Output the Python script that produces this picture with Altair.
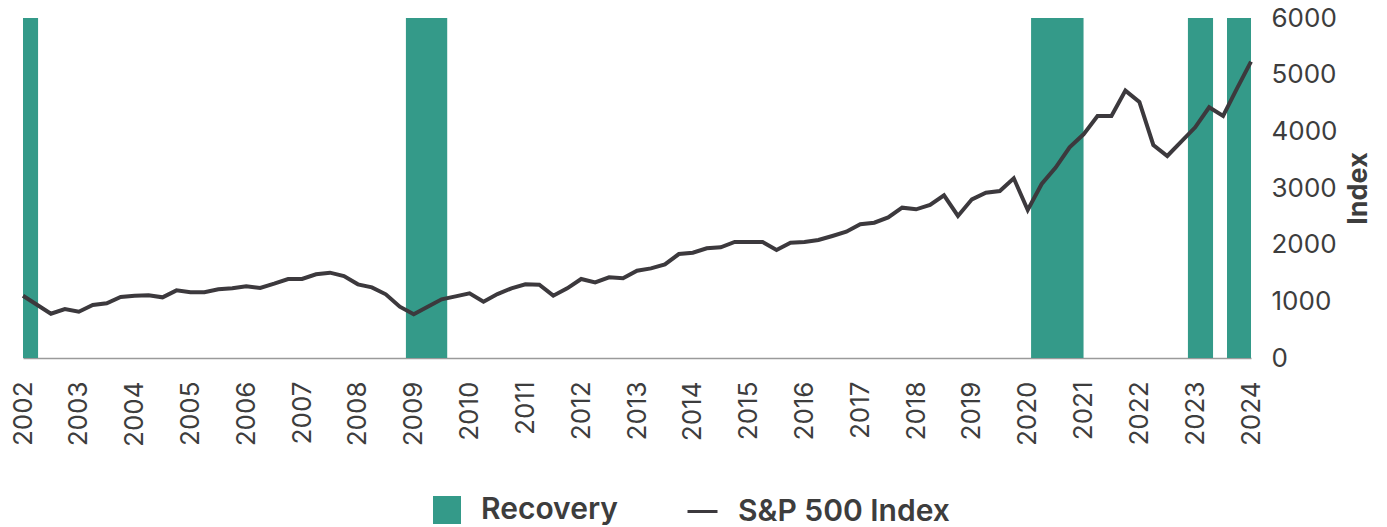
import altair as alt
import pandas as pd

# S&P 500 index, quarterly from 2002 Q1 to 2024 Q1
sp500 = [1099, 940, 782, 865, 817, 935, 965, 1076, 1100, 1106, 1071, 1194,
         1159, 1159, 1212, 1230, 1265, 1235, 1311, 1394, 1394, 1477, 1506, 1447,
         1300, 1247, 1124, 905, 771, 903, 1035, 1088, 1141, 994, 1129, 1229,
         1300, 1294, 1100, 1229, 1394, 1335, 1423, 1406, 1541, 1582, 1653, 1835,
         1859, 1935, 1953, 2047, 2047, 2047, 1906, 2035, 2047, 2082, 2153, 2229,
         2360, 2388, 2482, 2653, 2624, 2700, 2871, 2506, 2800, 2918, 2947, 3171,
         2612, 3071, 3360, 3718, 3947, 4271, 4271, 4718, 4518, 3759, 3565, 3818,
         4071, 4424, 4271, 4759, 5229]
start_year = 2002
quarter_step = 0.25

# Recovery periods (fractional years)
rec_start = [2002.0, 2008.86, 2020.06, 2022.87, 2023.57]
rec_end = [2002.27, 2009.60, 2021.0, 2023.32, 2024.0]

year_ticks = list(range(2002, 2025))
y_ticks = [0, 1000, 2000, 3000, 4000, 5000, 6000]

GREEN = "#349a89"
DARK = "#3c393d"
TEXT = "#3d3d3d"
FONT = "Inter"

line_df = pd.DataFrame({
    "t": [start_year + i * quarter_step for i in range(len(sp500))],
    "v": sp500,
    "series": ["S&P 500 Index"] * len(sp500),
})
rec_df = pd.DataFrame({
    "s": rec_start, "e": rec_end,
    "lo": [0] * len(rec_start), "hi": [6000] * len(rec_start),
    "label": ["Recovery"] * len(rec_start),
})

x_scale = alt.Scale(domain=[2002, 2024], nice=False, zero=False)
y_scale = alt.Scale(domain=[0, 6000], nice=False)

x_axis = alt.Axis(values=year_ticks, format="d", labelAngle=270, labelFontSize=26,
                  labelColor=TEXT, labelFont=FONT, ticks=False, grid=False,
                  domainColor="#9a9a9a", domainWidth=1.5, labelPadding=23,
                  labelFlush=False, labelOverlap=False, title=None)
y_axis = alt.Axis(orient="right", values=y_ticks, format="d", labelFontSize=26,
                  labelColor=TEXT, labelFont=FONT, ticks=False, grid=False,
                  domain=False, labelPadding=20, title="Index", titleFont=FONT,
                  titleFontSize=27, titleFontWeight="bold", titleColor=TEXT,
                  titleAngle=270, titleBaseline="top", titlePadding=8)

rects = alt.Chart(rec_df).mark_rect(opacity=1).encode(
    x=alt.X("s:Q", scale=x_scale, axis=x_axis),
    x2="e:Q",
    y=alt.Y("lo:Q", scale=y_scale, axis=y_axis),
    y2="hi:Q",
    fill=alt.Fill("label:N", scale=alt.Scale(domain=["Recovery"], range=[GREEN]),
                  legend=alt.Legend(title=None, orient="none", legendX=409, legendY=477,
                                    symbolType="square", symbolSize=784,
                                    symbolOpacity=1, labelFontSize=30,
                                    labelFont=FONT, labelFontWeight=600,
                                    labelColor=TEXT, labelOffset=19, labelLimit=0)),
)

line = alt.Chart(line_df).mark_line(strokeWidth=4).encode(
    x=alt.X("t:Q", scale=x_scale),
    y=alt.Y("v:Q", scale=y_scale),
    stroke=alt.Stroke("series:N", scale=alt.Scale(domain=["S&P 500 Index"], range=[DARK]),
                      legend=alt.Legend(title=None, orient="none", legendX=663, legendY=477,
                                        symbolType="stroke", symbolSize=900,
                                        symbolStrokeWidth=3, labelFontSize=30,
                                        labelFont=FONT, labelFontWeight=600,
                                        labelColor=TEXT, labelOffset=19, labelLimit=0)),
)

chart = alt.layer(rects, line).properties(
    width=1228, height=340,
    autosize=alt.AutoSizeParams(type="none"),
    padding={"left": 15, "top": 10, "right": 128, "bottom": 169},
).configure_view(stroke=None)

chart.save("out.html", embed_options={"renderer": "svg", "actions": False})
